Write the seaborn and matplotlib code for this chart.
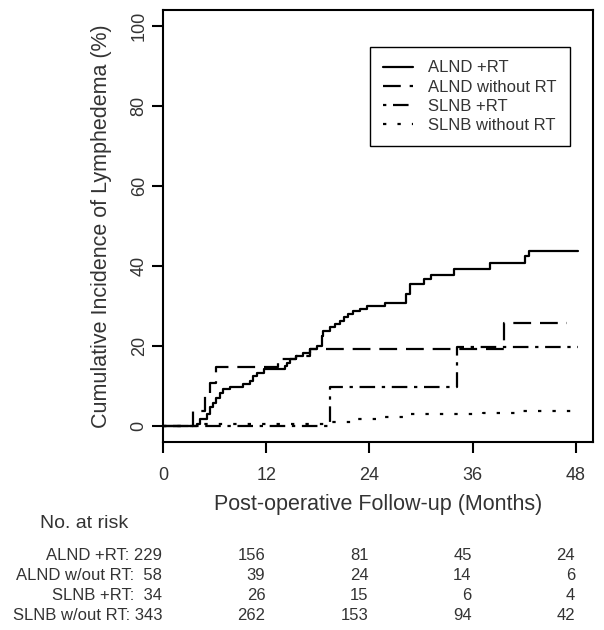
import numpy as np
import pandas as pd
import matplotlib
matplotlib.use("Agg")
import matplotlib.pyplot as plt
import matplotlib.transforms as mtransforms
import seaborn as sns

# step curves (months, cumulative %)
alnd_rt_t = [0, 3.9, 4.3, 5.1, 5.5, 5.85, 6.2, 6.6, 7.0, 7.8, 9.3, 10.1, 10.5, 10.9, 11.7,
             14.2, 14.4, 14.8, 15.5, 16.3, 17.1, 17.9, 18.45, 18.6, 19.4, 20.0, 20.6, 21.0,
             21.5, 22.1, 22.9, 23.7, 25.8, 28.3, 28.7, 30.3, 31.2, 33.8, 38.0, 42.1, 42.5, 48.2]
alnd_rt_y = [0, 0.4, 1.7, 3.0, 4.6, 5.8, 7.0, 8.3, 9.2, 9.6, 10.4, 11.2, 12.5, 13.3, 14.2,
             15.0, 15.8, 16.7, 17.5, 18.3, 19.2, 20.0, 22.5, 23.75, 24.6, 25.4, 26.2, 27.1,
             27.9, 28.75, 29.2, 30.0, 30.8, 32.9, 35.4, 36.7, 37.75, 39.2, 40.6, 42.5, 43.75, 43.75]

alnd_nort_t = [0, 3.5, 4.9, 5.5, 6.2, 13.4, 15.5, 17.1, 39.6, 47.0]
alnd_nort_y = [0, 3.75, 8.3, 10.8, 14.75, 16.7, 17.5, 19.2, 25.8, 25.8]

slnb_rt_t = [0, 19.4, 34.2, 48.2]
slnb_rt_y = [0, 9.75, 19.6, 19.6]

slnb_nort_t = [0, 4.7, 19.0, 22.5, 25.6, 28.7, 37.2, 41.1, 48.2]
slnb_nort_y = [0, 0.4, 1.0, 1.7, 2.3, 2.9, 3.3, 3.75, 3.75]

groups = ["ALND +RT", "ALND without RT", "SLNB +RT", "SLNB without RT"]

# numbers at risk
risk_times = [0, 12, 24, 36, 48]
risk_labels = ["ALND +RT: ", "ALND w/out RT:  ", "SLNB +RT:  ", "SLNB w/out RT: "]
risk_counts = [[229, 156, 81, 45, 24],
               [58, 39, 24, 14, 6],
               [34, 26, 15, 6, 4],
               [343, 262, 153, 94, 42]]

curves = [(alnd_rt_t, alnd_rt_y), (alnd_nort_t, alnd_nort_y),
          (slnb_rt_t, slnb_rt_y), (slnb_nort_t, slnb_nort_y)]
df = pd.concat([pd.DataFrame({"month": t, "pct": y, "group": g})
                for g, (t, y) in zip(groups, curves)], ignore_index=True)

sns.set_style("ticks")
plt.rcParams['font.family'] = ['Liberation Sans', 'DejaVu Sans']
txt = "#333333"

fig = plt.figure(figsize=(6.04, 6.3), dpi=100)
ax = fig.add_axes([163 / 604, 1 - 441.7 / 630, 430 / 604, 431.7 / 630])

dashes = {"ALND +RT": "", "ALND without RT": (8, 4),
          "SLNB +RT": (1.5, 3, 7, 3), "SLNB without RT": (1.5, 5)}
sns.lineplot(data=df, x="month", y="pct", hue="group", style="group",
             hue_order=groups, style_order=groups,
             palette=["black"] * 4, dashes=dashes, estimator=None,
             drawstyle="steps-post", lw=1.6, legend=False, ax=ax)

ax.set_xlim(0, 50)
ax.set_ylim(-4, 104)
ax.set_xticks(risk_times)
ax.set_yticks([0, 20, 40, 60, 80, 100])
for s in ax.spines.values():
    s.set_linewidth(1.5)
    s.set_color("black")
ax.tick_params(axis="both", length=8, width=1.5, color="black",
               labelsize=13, labelcolor=txt)
ax.tick_params(axis="x", pad=10)
ax.tick_params(axis="y", pad=3, labelrotation=90)
for lbl in ax.get_yticklabels():
    lbl.set_va("center")

ax.set_xlabel("Post-operative Follow-up (Months)", fontsize=15.5, color=txt)
ax.set_ylabel("Cumulative Incidence of Lymphedema (%)", fontsize=15.5, color=txt)
ax.xaxis.set_label_coords(0.5, -0.12)
ax.yaxis.set_label_coords(-0.118, 0.5)

leg = ax.legend(handles=ax.get_lines()[:4], labels=groups, loc="upper right",
                bbox_to_anchor=(0.9465, 0.914), borderaxespad=0, fontsize=12,
                frameon=True, fancybox=False, framealpha=1, edgecolor="black",
                handlelength=1.8, handletextpad=0.9, labelspacing=0.25, borderpad=0.8)
leg.get_frame().set_linewidth(1.0)
for t in leg.get_texts():
    t.set_color(txt)

# numbers-at-risk table under the plot
fig.text(84 / 604, 1 - 523 / 630, "No. at risk", fontsize=14, color=txt,
         ha="center", va="center")
trans = mtransforms.blended_transform_factory(ax.transData, fig.transFigure)
row_y = [555, 575, 595, 615]
for lab, counts, yy in zip(risk_labels, risk_counts, row_y):
    for j, (tm, n) in enumerate(zip(risk_times, counts)):
        s = f"{lab}{n}" if j == 0 else f"{n}"
        ax.text(tm - 0.1, 1 - yy / 630, s, transform=trans, fontsize=12,
                color=txt, ha="right", va="center", clip_on=False)

fig.savefig("out.png", dpi=100)
